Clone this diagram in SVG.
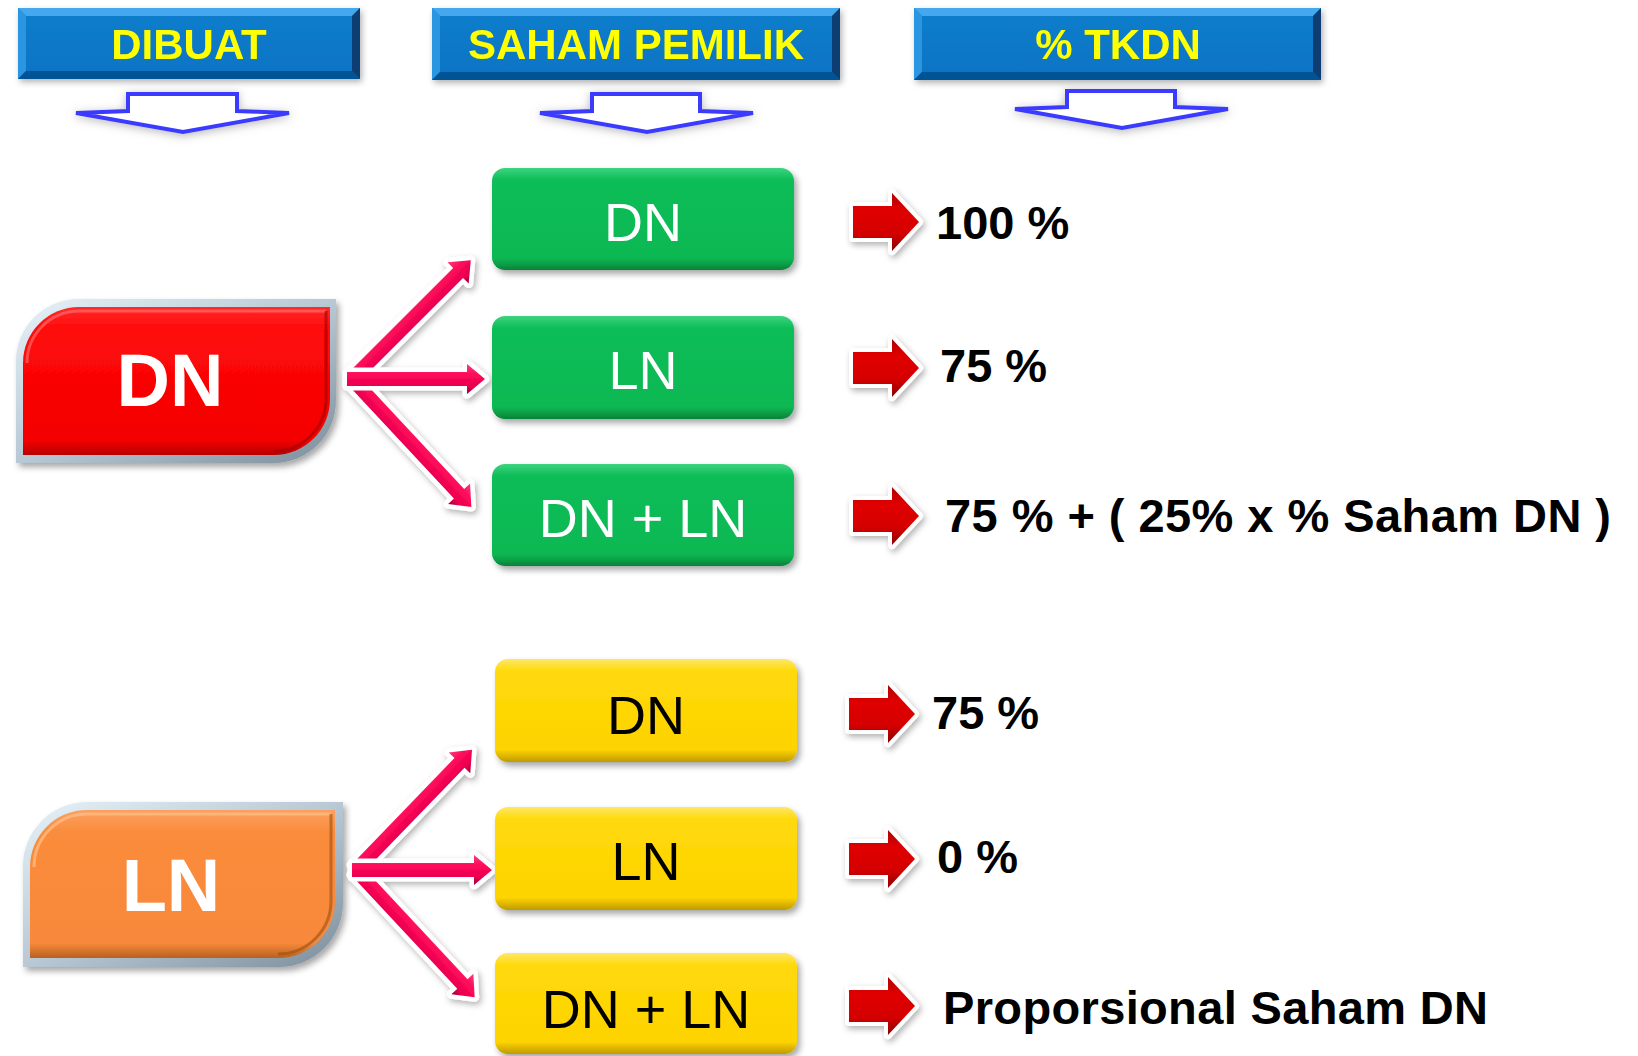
<svg xmlns="http://www.w3.org/2000/svg" xmlns:xlink="http://www.w3.org/1999/xlink" width="1638" height="1056" viewBox="0 0 1638 1056">
<style>
.hdr-text{font-family:"Liberation Sans",Arial,sans-serif;font-weight:bold;font-size:42px;fill:#ffff00;text-anchor:middle}
.big-text{font-family:"Liberation Sans",Arial,sans-serif;font-weight:bold;font-size:74px;fill:#ffffff;text-anchor:middle}
.box-text{font-family:"Liberation Sans",Arial,sans-serif;font-size:54px;text-anchor:middle}
.res-text{font-family:"Liberation Sans",Arial,sans-serif;font-weight:bold;font-size:47px;fill:#000000}
.down{fill:#ffffff;stroke:#3a3aff;stroke-width:4;stroke-linejoin:miter}
.pink{fill:url(#pinkGrad);stroke:#ffffff;stroke-width:9;paint-order:stroke;stroke-linejoin:round}
.redarr{fill:url(#redArrGrad);stroke:#ffffff;stroke-width:8;paint-order:stroke;stroke-linejoin:round}
</style>
<defs>
<filter id="shadow" x="-20%" y="-20%" width="140%" height="150%">
<feDropShadow dx="3" dy="4" stdDeviation="3" flood-color="#000" flood-opacity="0.35"/>
</filter>
<filter id="softshadow" x="-20%" y="-30%" width="140%" height="170%">
<feDropShadow dx="2" dy="3" stdDeviation="3" flood-color="#000" flood-opacity="0.3"/>
</filter>
<filter id="glow" x="-20%" y="-60%" width="140%" height="220%">
<feGaussianBlur in="SourceAlpha" stdDeviation="5" result="b"/>
<feOffset in="b" dx="0" dy="2" result="o"/>
<feFlood flood-color="#888" flood-opacity="0.6"/>
<feComposite in2="o" operator="in" result="s"/>
<feMerge><feMergeNode in="s"/><feMergeNode in="SourceGraphic"/></feMerge>
</filter>
<linearGradient id="blueGrad" x1="0" y1="0" x2="0" y2="1">
<stop offset="0" stop-color="#0c7dcc"/><stop offset="1" stop-color="#0674c4"/>
</linearGradient>
<linearGradient id="silverGrad" x1="0" y1="0" x2="1" y2="1">
<stop offset="0" stop-color="#e6f2f8"/><stop offset="0.5" stop-color="#b8c8d4"/><stop offset="1" stop-color="#7d8e9c"/>
</linearGradient>
<linearGradient id="redGrad" x1="0" y1="0" x2="0" y2="1">
<stop offset="0" stop-color="#ff2a2a"/><stop offset="0.15" stop-color="#ff0a0a"/><stop offset="0.9" stop-color="#f40000"/><stop offset="1" stop-color="#b80000"/>
</linearGradient>
<linearGradient id="orangeGrad" x1="0" y1="0" x2="0" y2="1">
<stop offset="0" stop-color="#fca060"/><stop offset="0.15" stop-color="#fa8c3c"/><stop offset="0.9" stop-color="#f8883a"/><stop offset="1" stop-color="#b8611f"/>
</linearGradient>
<linearGradient id="greenGrad" x1="0" y1="0" x2="0" y2="1">
<stop offset="0" stop-color="#3fd37f"/><stop offset="0.12" stop-color="#0abd58"/><stop offset="0.88" stop-color="#08b852"/><stop offset="1" stop-color="#06853b"/>
</linearGradient>
<linearGradient id="yellowGrad" x1="0" y1="0" x2="0" y2="1">
<stop offset="0" stop-color="#ffe766"/><stop offset="0.12" stop-color="#ffd90a"/><stop offset="0.88" stop-color="#fdd300"/><stop offset="1" stop-color="#c09a00"/>
</linearGradient>
<linearGradient id="pinkGrad" x1="0" y1="0" x2="0" y2="1">
<stop offset="0" stop-color="#ff3a7a"/><stop offset="0.35" stop-color="#ff0a5a"/><stop offset="0.75" stop-color="#e8004f"/><stop offset="1" stop-color="#9a0035"/>
</linearGradient>
<linearGradient id="redArrGrad" x1="0" y1="0" x2="0" y2="1">
<stop offset="0" stop-color="#b00000"/><stop offset="0.3" stop-color="#e00000"/><stop offset="0.7" stop-color="#d40000"/><stop offset="1" stop-color="#8a0000"/>
</linearGradient>
<path id="redArrow" d="M0,-16 L39,-16 L39,-29 L66,0 L39,29 L39,16 L0,16 Z"/>
</defs>

<rect x="0" y="0" width="1638" height="1056" fill="#ffffff"/>

<!-- Header: DIBUAT -->
<g id="hdr-dibuat" filter="url(#softshadow)">
<rect x="18" y="8" width="342" height="71" fill="url(#blueGrad)"/>
<polygon points="18,8 360,8 352,16 26,16" fill="#45a8ee"/>
<polygon points="18,8 26,16 26,71 18,79" fill="#2c95e0"/>
<polygon points="360,8 360,79 352,71 352,16" fill="#073c72"/>
<polygon points="18,79 26,71 352,71 360,79" fill="#055394"/>
<text class="hdr-text" x="189" y="59">DIBUAT</text>
</g>
<g id="hdr-saham" filter="url(#softshadow)">
<rect x="432" y="8" width="408" height="72" fill="url(#blueGrad)"/>
<polygon points="432,8 840,8 832,16 440,16" fill="#45a8ee"/>
<polygon points="432,8 440,16 440,72 432,80" fill="#2c95e0"/>
<polygon points="840,8 840,80 832,72 832,16" fill="#073c72"/>
<polygon points="432,80 440,72 832,72 840,80" fill="#055394"/>
<text class="hdr-text" x="636" y="59">SAHAM PEMILIK</text>
</g>
<g id="hdr-tkdn" filter="url(#softshadow)">
<rect x="914" y="8" width="407" height="72" fill="url(#blueGrad)"/>
<polygon points="914,8 1321,8 1313,16 922,16" fill="#45a8ee"/>
<polygon points="914,8 922,16 922,72 914,80" fill="#2c95e0"/>
<polygon points="1321,8 1321,80 1313,72 1313,16" fill="#073c72"/>
<polygon points="914,80 922,72 1313,72 1321,80" fill="#055394"/>
<text class="hdr-text" x="1118" y="59">% TKDN</text>
</g>

<!-- Down arrows -->
<g id="down-arrows" filter="url(#glow)">
<path class="down" d="M128,111 L128,94 L237,94 L237,111 L289,113 L183,132 L76,113 Z"/>
<path class="down" d="M592,111 L592,94 L700,94 L700,111 L753,113 L647,132 L540,113 Z"/>
<path class="down" d="M1067,107 L1067,91 L1175,91 L1175,107 L1228,109 L1122,128 L1015,109 Z"/>
</g>

<!-- Left nodes -->
<g id="node-dn-src" filter="url(#shadow)">
<path d="M16,361 A62,62 0 0 1 78,299 L336,299 L336,401 A62,62 0 0 1 274,463 L16,463 Z" fill="url(#silverGrad)"/>
<path d="M23,363 A56,56 0 0 1 79,307 L330,307 L330,399 A56,56 0 0 1 274,455 L23,455 Z" fill="url(#redGrad)"/>
<path d="M27,363 A52,52 0 0 1 79,311 L326,311" fill="none" stroke="#ff6a6a" stroke-width="3" opacity="0.7"/>
<path d="M326,311 L326,399 A52,52 0 0 1 274,451" fill="none" stroke="#a00000" stroke-width="3" opacity="0.6"/>
<text class="big-text" x="170" y="406">DN</text>
</g>
<g id="node-ln-src" filter="url(#shadow)">
<path d="M23,866 A64,64 0 0 1 87,802 L343,802 L343,903 A64,64 0 0 1 279,967 L23,967 Z" fill="url(#silverGrad)"/>
<path d="M30,867 A57,57 0 0 1 87,810 L335,810 L335,901 A57,57 0 0 1 278,958 L30,958 Z" fill="url(#orangeGrad)"/>
<path d="M34,867 A53,53 0 0 1 87,814 L331,814" fill="none" stroke="#ffc08a" stroke-width="3" opacity="0.7"/>
<path d="M331,814 L331,901 A53,53 0 0 1 278,954" fill="none" stroke="#9a5010" stroke-width="3" opacity="0.6"/>
<text class="big-text" x="171" y="911">LN</text>
</g>

<!-- Connectors -->
<g id="connectors" filter="url(#softshadow)">
<path class="pink" transform="translate(352,379) rotate(-45)" d="M0,-7 L150,-7 L150,-15 L168,0 L150,15 L150,7 L0,7 Z"/>
<path class="pink" transform="translate(352,379) rotate(47)" d="M0,-7 L157,-7 L157,-15 L175,0 L157,15 L157,7 L0,7 Z"/>
<path class="pink" transform="translate(347,379)" d="M0,-7 L120,-7 L120,-15 L138,0 L120,15 L120,7 L0,7 Z"/>
<path class="pink" transform="translate(356,870) rotate(-46)" d="M0,-7 L149,-7 L149,-15 L167,0 L149,15 L149,7 L0,7 Z"/>
<path class="pink" transform="translate(356,870) rotate(47)" d="M0,-7 L156,-7 L156,-15 L174,0 L156,15 L156,7 L0,7 Z"/>
<path class="pink" transform="translate(352,870)" d="M0,-7 L122,-7 L122,-15 L140,0 L122,15 L122,7 L0,7 Z"/>
</g>

<!-- Green boxes -->
<g id="g-dn" filter="url(#shadow)">
<rect x="492" y="168" width="302" height="102" rx="13" fill="url(#greenGrad)"/>
<text class="box-text" x="643" y="241" fill="#ffffff">DN</text>
</g>
<g id="g-ln" filter="url(#shadow)">
<rect x="492" y="316" width="302" height="103" rx="13" fill="url(#greenGrad)"/>
<text class="box-text" x="643" y="389" fill="#ffffff">LN</text>
</g>
<g id="g-dnln" filter="url(#shadow)">
<rect x="492" y="464" width="302" height="102" rx="13" fill="url(#greenGrad)"/>
<text class="box-text" x="643" y="537" fill="#ffffff">DN + LN</text>
</g>

<!-- Yellow boxes -->
<g id="y-dn" filter="url(#shadow)">
<rect x="495" y="659" width="302" height="103" rx="13" fill="url(#yellowGrad)"/>
<text class="box-text" x="646" y="734" fill="#000000">DN</text>
</g>
<g id="y-ln" filter="url(#shadow)">
<rect x="495" y="807" width="302" height="103" rx="13" fill="url(#yellowGrad)"/>
<text class="box-text" x="646" y="880" fill="#000000">LN</text>
</g>
<g id="y-dnln" filter="url(#shadow)">
<rect x="495" y="953" width="302" height="101" rx="13" fill="url(#yellowGrad)"/>
<text class="box-text" x="646" y="1028" fill="#000000">DN + LN</text>
</g>

<!-- Result arrows and texts -->
<g id="res-1">
<use href="#redArrow" class="redarr" x="853" y="222" filter="url(#softshadow)"/>
<text class="res-text" x="936" y="239">100 %</text>
</g>
<g id="res-2">
<use href="#redArrow" class="redarr" x="853" y="368" filter="url(#softshadow)"/>
<text class="res-text" x="940" y="382">75 %</text>
</g>
<g id="res-3">
<use href="#redArrow" class="redarr" x="853" y="516" filter="url(#softshadow)"/>
<text class="res-text" x="945" y="532" textLength="666" lengthAdjust="spacing">75 % + ( 25% x % Saham DN )</text>
</g>
<g id="res-4">
<use href="#redArrow" class="redarr" x="849" y="714" filter="url(#softshadow)"/>
<text class="res-text" x="932" y="729">75 %</text>
</g>
<g id="res-5">
<use href="#redArrow" class="redarr" x="849" y="859" filter="url(#softshadow)"/>
<text class="res-text" x="937" y="873">0 %</text>
</g>
<g id="res-6">
<use href="#redArrow" class="redarr" x="849" y="1006" filter="url(#softshadow)"/>
<text class="res-text" x="943" y="1024" textLength="545" lengthAdjust="spacing">Proporsional Saham DN</text>
</g>
</svg>
